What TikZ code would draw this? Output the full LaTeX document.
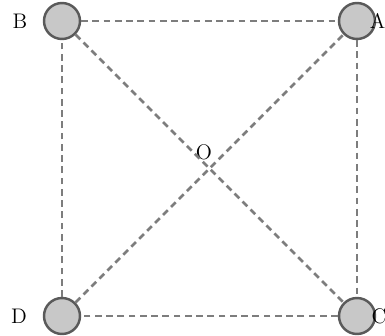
\documentclass[tikz,border=0pt]{standalone}
\usepackage{xcolor}
\usepackage{tikz}
\definecolor{ptfill}{RGB}{200,200,200}
\definecolor{ptedge}{RGB}{90,90,90}
\definecolor{dashc}{RGB}{125,125,125}
\tikzset{
  pt/.style={circle,fill=ptfill,draw=ptedge,line width=1.4pt,minimum size=0.72cm,inner sep=0pt},
  sq/.style={dashc,line width=1.5pt,dash pattern=on 3.8pt off 2.6pt},
  lbl/.style={font=\fontsize{12}{14}\selectfont,inner sep=0pt}
}
\newcommand{\vtx}[4]{\node[pt] (#1) at (#2,#3) {};
  \node[lbl] (l#1) at ({#2+#4},#3) {#1};}
\begin{document}
\begin{tikzpicture}[x=0.02cm,y=-0.02cm]
  \useasboundingbox (0,0) rectangle (385,335);
  \clip (0,0) rectangle (385,335);
  \vtx{A}{357}{21}{20.5}
  \vtx{B}{62}{21}{-42}
  \vtx{D}{62}{316}{-43}
  \vtx{C}{357}{316}{22}
  \coordinate (O) at (209.5,168.5);
  \node[lbl] (lO) at (204,152) {O};
  % square
  \draw[sq] (B) -- (A);
  \draw[sq] (A) -- (C);
  \draw[sq] (C) -- (D);
  \draw[sq] (D) -- (B);
  % diagonals
  \draw[sq] (B) -- (C);
  \draw[sq] (D) -- (A);
\end{tikzpicture}
\end{document}
